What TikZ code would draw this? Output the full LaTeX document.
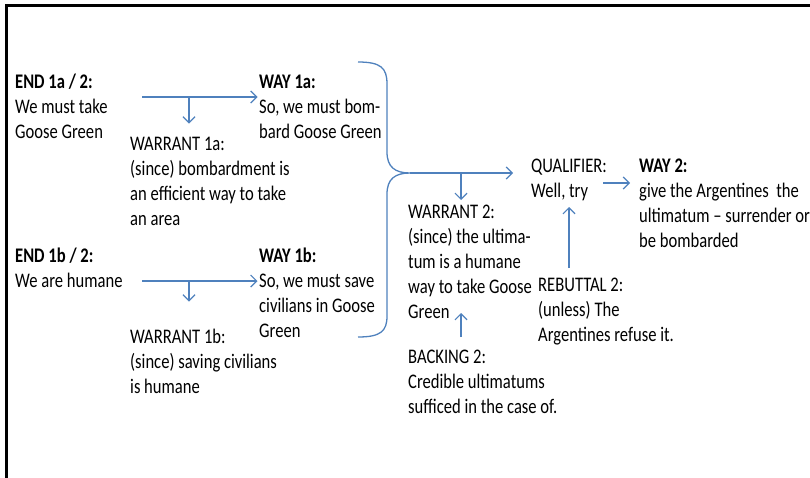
\documentclass[tikz,border=0pt]{standalone}
\usepackage{fontspec}
\setmainfont{Carlito}[FakeStretch=0.8]
\usepackage{xcolor}
\usetikzlibrary{arrows.meta,calc}
\definecolor{arrblue}{RGB}{79,129,189}
\tikzset{>=latex}
\tikzset{
	txt/.style={anchor=north west, inner sep=0pt, align=left, yshift=17.5pt,
		font=\fontsize{20.75}{25}\selectfont},
	arr/.style={draw=arrblue, line width=1.3pt,
		-{Straight Barb[length=6pt,width=12pt,line width=1.2pt]}},
	brace/.style={draw=arrblue, line width=1.3pt}
}

\begin{document}
\begin{tikzpicture}[x=1pt,y=-1pt]
		\useasboundingbox (0,0) rectangle (810,477);
		\draw[line width=2.8pt] (6.5,480) -- (6.5,5.5) -- (812,5.5);
		
		\node[txt] (end1a) at (15,88) {\strut\textbf{END 1a / 2:}\\We must take\\Goose Green};
		\node[txt] (way1a) at (259,88) {\strut\textbf{WAY 1a:}\\So, we must bom-\\bard Goose Green};
		\node[txt] (warr1a) at (130,150) {\strut WARRANT 1a:\\(since) bombardment is\\an efficient way to take\\an area};
		\node[txt] (end1b) at (15,262) {\strut\textbf{END 1b / 2:}\\We are humane};
		\node[txt] (way1b) at (259,262) {\strut\textbf{WAY 1b:}\\So, we must save\\civilians in Goose\\Green};
		\node[txt] (warr1b) at (130,343) {\strut WARRANT 1b:\\(since) saving civilians\\is humane};
		\node[txt] (qual) at (531,172) {\strut QUALIFIER:\\Well, try};
		\node[txt] (way2) at (639,172) {\strut\textbf{WAY 2:}\\give the Argentines\ \ the\\ultimatum -- surrender or\\be bombarded};
		\node[txt] (warr2) at (408,218) {\strut WARRANT 2:\\(since) the ultima-\\tum is a humane\\way to take Goose\\Green};
		\node[txt] (reb2) at (538,291) {\strut REBUTTAL 2:\\(unless) The\\Argentines refuse it.};
		\node[txt] (back2) at (408,363) {\strut BACKING 2:\\Credible ultimatums\\sufficed in the case of.};
		
		\coordinate (s1a) at (142,97);
		\coordinate (k1a) at (189,97);
		\coordinate (s1b) at (142,281);
		\coordinate (k1b) at (189,281);
		\coordinate (tip) at (410,173);
		\coordinate (k2) at (461,173);
		\coordinate (sq) at (603,183);
		\coordinate (sr) at (569,268);
		\coordinate (sb) at (461,337);
		
		\draw[arr] (s1a) -- ([xshift=-1.5pt]s1a -| way1a.west);
		\draw[arr] (k1a) -- ($(k1a |- warr1a.north)+(0,-9)$);
		\draw[arr] (s1b) -- ([xshift=-1.5pt]s1b -| way1b.west);
		\draw[arr] (k1b) -- ($(k1b |- warr1b.north)+(0,-24)$);
		
		\draw[brace] (358,62) .. controls (381,62) and (387,68) .. (387,84) -- (387,152)
			.. controls (387,167) and (395,173) .. (tip)
			.. controls (395,173) and (387,179) .. (387,194) -- (387,316)
			.. controls (387,331) and (381,337) .. (358,337);
		\draw[arr] (tip) -- ([xshift=-18pt]tip -| qual.west);
		\draw[arr] (k2) -- ($(k2 |- warr2.north)+(0,-0.5)$);
		\draw[arr] (sq) -- ([xshift=-9pt]sq -| way2.west);
		\draw[arr] (sr) -- (569,207);
		\draw[arr] (sb) -- (461,313);
	\end{tikzpicture}
\end{document}
